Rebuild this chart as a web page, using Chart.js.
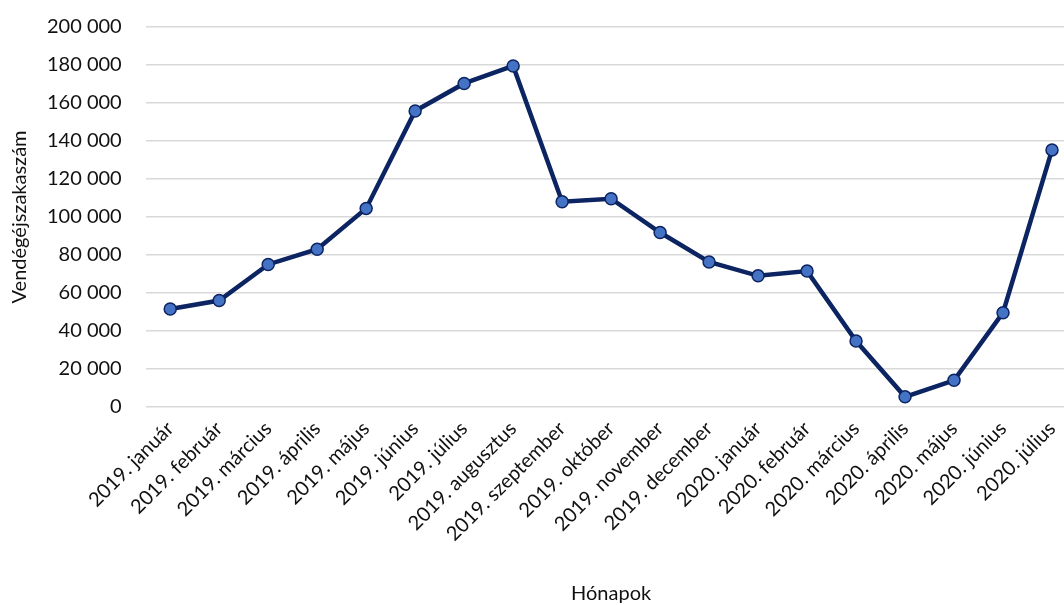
<!DOCTYPE html>
<html>
<head>
<meta charset="utf-8">
<script src="https://cdn.jsdelivr.net/npm/chart.js@4"></script>
<style>
  html, body { margin: 0; padding: 0; background: #fff; overflow: hidden; }
  #wrap { width: 1084px; height: 619px; margin-top: -9px; position: relative; }
</style>
</head>
<body>
<div id="wrap"><canvas id="chart"></canvas></div>
<script>
const months = [
  '2019. január', '2019. február', '2019. március', '2019. április', '2019. május',
  '2019. június', '2019. július', '2019. augusztus', '2019. szeptember', '2019. október',
  '2019. november', '2019. december', '2020. január', '2020. február', '2020. március',
  '2020. április', '2020. május', '2020. június', '2020. július'
];
const guestNights = [
  51500, 56000, 75000, 83000, 104500,
  155800, 170300, 179500, 108000, 109600,
  91800, 76300, 69000, 71500, 34700,
  5300, 14000, 49600, 135300
];
const yTicks = [0, 20000, 40000, 60000, 80000, 100000, 120000, 140000, 160000, 180000, 200000];

const fmt = v => String(v).replace(/\B(?=(\d{3})+(?!\d))/g, ' ');
const font = { family: 'Lato, "Noto Sans", sans-serif', size: 20 };

new Chart(document.getElementById('chart'), {
  type: 'line',
  data: {
    labels: months,
    datasets: [{
      data: guestNights,
      borderColor: '#0c2461',
      borderWidth: 4.5,
      pointBackgroundColor: '#4472c4',
      pointBorderColor: '#0c2461',
      pointBorderWidth: 1.5,
      pointRadius: 6,
      tension: 0
    }]
  },
  options: {
    responsive: true,
    maintainAspectRatio: false,
    animation: false,
    layout: { padding: { top: 5, left: 4, right: 0, bottom: 0 } },
    plugins: { legend: { display: false }, tooltip: { enabled: false } },
    scales: {
      x: {
        offset: true,
        grid: { display: false },
        border: { display: false },
        ticks: { font, color: '#111', minRotation: 45, maxRotation: 45, padding: 2, autoSkip: false },
        title: { display: true, text: 'Hónapok', font, color: '#111', padding: { top: 34 } }
      },
      y: {
        min: 0,
        max: 200000,
        afterBuildTicks: axis => { axis.ticks = yTicks.map(v => ({ value: v })); },
        afterFit: axis => { axis.width -= 11; },
        grid: { color: '#d9d9d9', lineWidth: 1.5, drawTicks: false },
        border: { display: false },
        ticks: { font, color: '#111', padding: 24, callback: v => fmt(v) },
        title: { display: true, text: 'Vendégéjszakaszám', font, color: '#111', padding: { bottom: 2 } }
      }
    }
  }
});
</script>
</body>
</html>
